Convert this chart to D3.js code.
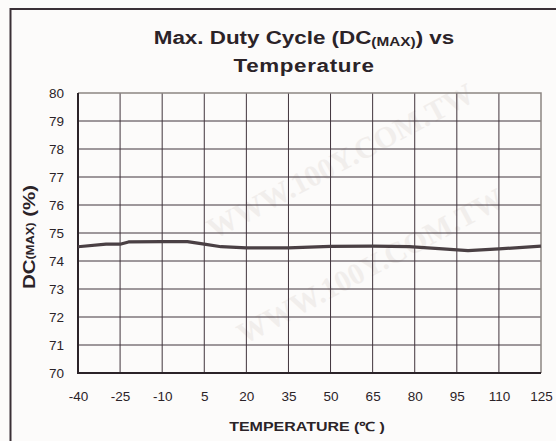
<!DOCTYPE html>
<html>
<head>
<meta charset="utf-8">
<script src="https://cdn.jsdelivr.net/npm/d3@7"></script>
<style>
  body { margin: 0; background: #fcfbfa; }
  text { font-family: "Liberation Sans", Arial, sans-serif; fill: #2b2328; }
</style>
</head>
<body>
<div id="chart"></div>
<script>
// readings
const temps = [-40, -30, -25, -22, -10, -1, 5, 11, 20, 35, 50, 65, 78, 90, 99, 110, 125];
const duty = [74.51, 74.6, 74.6, 74.68, 74.69, 74.69, 74.6, 74.51, 74.47, 74.47, 74.52, 74.53, 74.51, 74.43, 74.37, 74.43, 74.53];
const xTicks = [-40, -25, -10, 5, 20, 35, 50, 65, 80, 95, 110, 125];
const yTicks = [70, 71, 72, 73, 74, 75, 76, 77, 78, 79, 80];

const W = 556, H = 441;
const margin = { top: 93, right: 15, bottom: 68, left: 78 };
const width = W - margin.left - margin.right;
const height = H - margin.top - margin.bottom;
const stretch = 1.28; // bold labels in the source are drawn wide

const svg = d3.select('#chart').append('svg')
  .attr('width', W)
  .attr('height', H);

// faint watermark
const marks = [[345, 170], [375, 275]];
marks.forEach(([mx, my]) => {
  svg.append('text')
    .attr('transform', `translate(${mx},${my}) rotate(-28)`)
    .attr('text-anchor', 'middle')
    .style('font-family', '"Liberation Serif", serif')
    .style('font-weight', 'bold')
    .style('font-size', '30px')
    .style('fill', '#f1eeec')
    .text('WWW.100Y.COM.TW');
});

// outer frame
svg.append('path')
  .attr('d', `M10.5,${H} V9 H${W}`)
  .attr('fill', 'none')
  .attr('stroke', '#3a3036')
  .attr('stroke-width', 2);

const x = d3.scaleLinear().domain([-40, 125]).range([0, width]);
const y = d3.scaleLinear().domain([70, 80]).range([height, 0]);

const g = svg.append('g').attr('transform', `translate(${margin.left},${margin.top})`);

// grid
g.append('g').selectAll('line')
  .data(xTicks.slice(1, -1)).enter()
  .append('line')
  .attr('x1', (d) => x(d)).attr('x2', (d) => x(d))
  .attr('y1', 0).attr('y2', height)
  .attr('stroke', '#40343c').attr('stroke-width', 1);

g.append('g').selectAll('line')
  .data(yTicks.slice(1, -1)).enter()
  .append('line')
  .attr('x1', 0).attr('x2', width)
  .attr('y1', (d) => y(d)).attr('y2', (d) => y(d))
  .attr('stroke', '#40343c').attr('stroke-width', 1);

// plot frame: grey top/right, dark left/bottom
g.append('path')
  .attr('d', `M0,0 H${width} V${height}`)
  .attr('fill', 'none').attr('stroke', '#8c8682').attr('stroke-width', 1.5);
g.append('path')
  .attr('d', `M0,0 V${height} H${width}`)
  .attr('fill', 'none').attr('stroke', '#2b2328').attr('stroke-width', 2);

// axes labels
const xAxis = g.append('g')
  .attr('transform', `translate(0,${height})`)
  .call(d3.axisBottom(x).tickValues(xTicks).tickFormat((d) => String(d)).tickSize(0).tickPadding(18));
const yAxis = g.append('g')
  .call(d3.axisLeft(y).tickValues(yTicks).tickFormat((d) => String(d)).tickSize(0).tickPadding(14));
[xAxis, yAxis].forEach((a) => {
  a.select('.domain').remove();
  a.selectAll('text')
    .style('font-family', '"Liberation Sans", Arial, sans-serif')
    .style('font-size', '13.5px')
    .style('fill', '#2b2328');
});

// curve
g.append('path')
  .datum(temps.map((t, i) => [t, duty[i]]))
  .attr('fill', 'none')
  .attr('stroke', '#4a4044')
  .attr('stroke-width', 3.2)
  .attr('stroke-linejoin', 'round')
  .attr('d', d3.line().x((d) => x(d[0])).y((d) => y(d[1])));

// title
const title = svg.append('text')
  .attr('transform', `translate(304,44) scale(${stretch},1)`)
  .attr('text-anchor', 'middle')
  .style('font-weight', 'bold')
  .style('font-size', '17.5px');
title.append('tspan').text('Max. Duty Cycle (DC');
title.append('tspan').style('font-size', '12px').attr('dy', 2).text('(MAX)');
title.append('tspan').attr('dy', -2).text(') vs');
svg.append('text')
  .attr('transform', `translate(304,72) scale(${stretch},1)`)
  .attr('text-anchor', 'middle')
  .style('font-weight', 'bold')
  .style('font-size', '17.5px')
  .style('letter-spacing', '0.5px')
  .text('Temperature');

// axis titles
svg.append('text')
  .attr('transform', `translate(307,431) scale(${stretch},1)`)
  .attr('text-anchor', 'middle')
  .style('font-weight', 'bold')
  .style('font-size', '12.5px')
  .text('TEMPERATURE (℃ )');

const yTitle = svg.append('text')
  .attr('transform', `translate(35,237) rotate(-90) scale(${stretch},1)`)
  .attr('text-anchor', 'middle')
  .style('font-weight', 'bold')
  .style('font-size', '16px');
yTitle.append('tspan').text('DC');
yTitle.append('tspan').style('font-size', '10px').attr('dy', -1).text('(MAX)');
yTitle.append('tspan').attr('dy', 1).text(' (%)');
</script>
</body>
</html>
